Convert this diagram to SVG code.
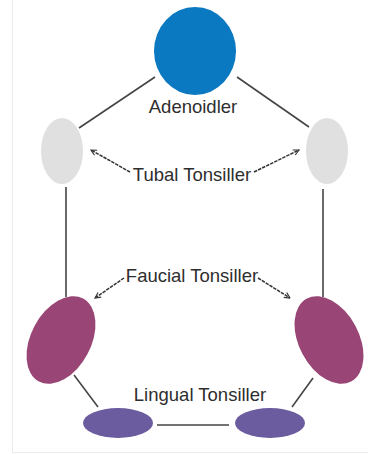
<svg xmlns="http://www.w3.org/2000/svg" width="368" height="454" viewBox="0 0 368 454">
<defs>
<style>
.lbl{font-family:"Liberation Sans",Arial,sans-serif;font-size:18.5px;fill:#2e2e2e;text-anchor:middle}
.ln{stroke:#444;stroke-width:1.6;fill:none}
.ar{stroke:#333;stroke-width:1.5;fill:none;stroke-dasharray:3.5 1}
</style>
<marker id="ah" viewBox="0 0 10 10" refX="9" refY="5" markerWidth="7" markerHeight="7" orient="auto-start-reverse" markerUnits="userSpaceOnUse">
<path d="M1,1 L9,5 L1,9" fill="none" stroke="#333" stroke-width="1.6"/>
</marker>
</defs>
<rect width="368" height="454" fill="#fff"/>
<path d="M12.5,0 V452.5 H368" fill="none" stroke="#ebebeb" stroke-width="1"/>
<g id="connectors">
<line class="ln" x1="155" y1="77" x2="79" y2="128"/>
<line class="ln" x1="237" y1="77" x2="309" y2="127"/>
<line class="ln" x1="66" y1="187" x2="66" y2="297"/>
<line class="ln" x1="323" y1="189" x2="323" y2="297"/>
<line class="ln" x1="74" y1="375" x2="98" y2="407"/>
<line class="ln" x1="313" y1="378" x2="292" y2="407"/>
<line class="ln" x1="157" y1="425" x2="229" y2="425"/>
<line class="ar" x1="130" y1="172" x2="91" y2="150" marker-end="url(#ah)"/>
<line class="ar" x1="254" y1="172" x2="299" y2="150" marker-end="url(#ah)"/>
<line class="ar" x1="124" y1="278" x2="95" y2="298" marker-end="url(#ah)"/>
<line class="ar" x1="258" y1="278" x2="290" y2="298" marker-end="url(#ah)"/>
</g>
<g id="adenoid">
<ellipse cx="195" cy="51" rx="41" ry="44" fill="#0b79c1"/>
<text class="lbl" x="193" y="113">Adenoidler</text>
</g>
<g id="tubal-left">
<ellipse cx="62" cy="151" rx="21" ry="33" fill="#e0e0e0"/>
</g>
<g id="tubal-right">
<ellipse cx="327" cy="151" rx="21" ry="33" fill="#e0e0e0"/>
</g>
<g id="tubal-label">
<text class="lbl" x="192" y="181">Tubal Tonsiller</text>
</g>
<g id="faucial-label">
<text class="lbl" x="192" y="282">Faucial Tonsiller</text>
</g>
<g id="faucial-left">
<ellipse cx="61" cy="340" rx="30" ry="47" transform="rotate(28 61 340)" fill="#994576"/>
</g>
<g id="faucial-right">
<ellipse cx="329" cy="340" rx="30" ry="47" transform="rotate(-28 329 340)" fill="#994576"/>
</g>
<g id="lingual-label">
<text class="lbl" x="200" y="401">Lingual Tonsiller</text>
</g>
<g id="lingual-left">
<ellipse cx="118" cy="423" rx="35" ry="15" fill="#6a5c9e"/>
</g>
<g id="lingual-right">
<ellipse cx="270" cy="423" rx="35" ry="15" fill="#6a5c9e"/>
</g>
</svg>
